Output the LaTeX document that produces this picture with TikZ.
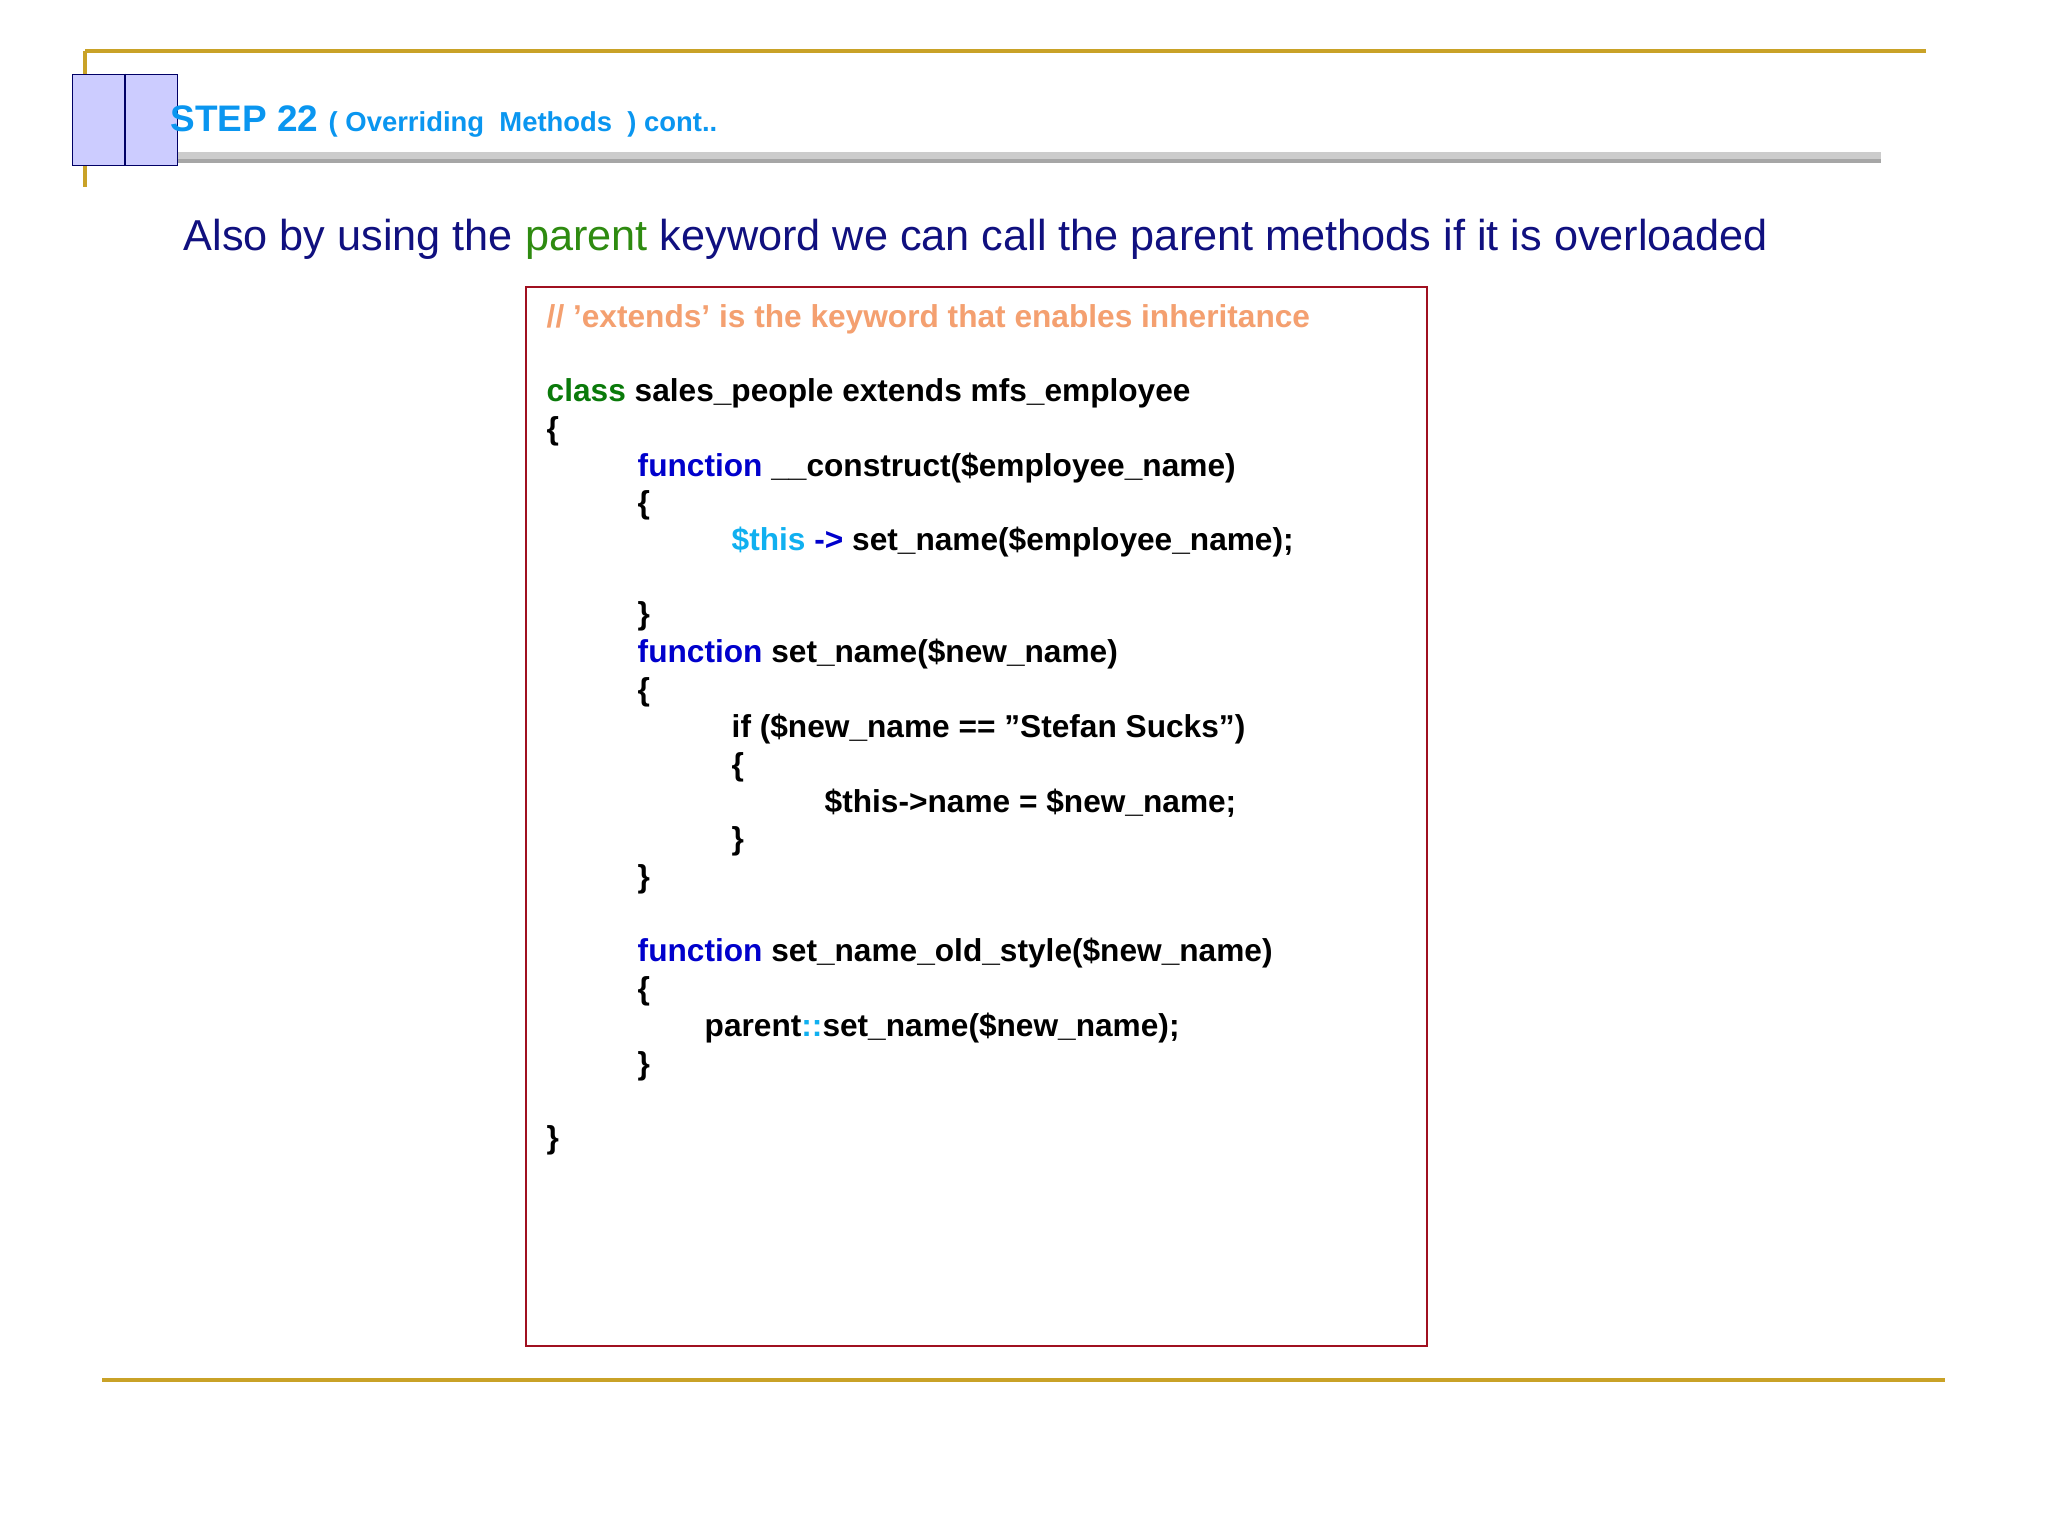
\documentclass[tikz,border=0pt]{standalone}
\usepackage{fontspec}
\setmainfont{Liberation Sans}
\definecolor{gold}{HTML}{C9A227}
\definecolor{ttl}{HTML}{0A96F0}
\definecolor{navy}{HTML}{10107F}
\definecolor{pgreen}{HTML}{2E8B10}
\definecolor{cmt}{HTML}{F4A070}
\definecolor{kgreen}{HTML}{0A7A0A}
\definecolor{kblue}{HTML}{0000CC}
\definecolor{kcyan}{HTML}{10B0F0}
\definecolor{boxred}{HTML}{A01020}
\begin{document}
\begin{tikzpicture}[x=0.01cm,y=-0.01cm,
  code/.style={anchor=west,inner sep=0pt,font=\fontsize{9}{10}\selectfont\bfseries},
  rule/.style={draw=gold,line width=1.2pt}]
\useasboundingbox (0,0) rectangle (2048,1535);
\fill[white] (0,0) rectangle (2048,1535);
% frame lines
\draw[rule] (85,51) -- (1926,51);
\draw[rule] (85,51) -- (85,187);
\draw[rule] (102,1380) -- (1945,1380);
\draw[gray!40,line width=2.2pt] (106,156) -- (1881,156);
\draw[gray!70,line width=0.9pt] (106,161) -- (1881,161);
% icon
\node[draw=blue!40!black,fill=blue!20,minimum width=30,minimum height=26,inner sep=0pt] (icon) at (125,120) {};
\draw[blue!40!black] (icon.north) -- (icon.south);
% title
\node[anchor=base west,inner sep=0pt,text=ttl] (title) at (170,131)
  {\fontsize{10.5}{12}\selectfont\bfseries STEP 22 \fontsize{7.8}{9}\selectfont ( Overriding\ \ Methods\ \ ) cont..};
% subtitle
\node[anchor=base west,inner sep=0pt,text=navy] (sub) at (183,250)
  {\fontsize{12.3}{14}\selectfont Also by using the \textcolor{pgreen}{parent} keyword we can call the parent methods if it is overloaded};
% code box
\draw[boxred,line width=0.8pt] (526,287) rectangle (1427,1346);
\node[code,text=cmt] (c0) at (546,319) {// 'extends' is the keyword that enables inheritance};
\node[code] (c1) at (546,393) {\textcolor{kgreen}{class} sales\_people extends mfs\_employee};
\node[code] (c2) at (546,431) {\{};
\node[code] (c3) at (637,468) {\textcolor{kblue}{function} \_\_construct(\$employee\_name)};
\node[code] (c4) at (637,505) {\{};
\node[code] (c5) at (731,542) {\textcolor{kcyan}{\$this} \textcolor{kblue}{->} set\_name(\$employee\_name);};
\node[code] (c6) at (637,616) {\}};
\node[code] (c7) at (637,654) {\textcolor{kblue}{function} set\_name(\$new\_name)};
\node[code] (c8) at (637,692) {\{};
\node[code] (c9) at (731,729) {if (\$new\_name == "Stefan Sucks")};
\node[code] (c10) at (731,767) {\{};
\node[code] (c11) at (824,803) {\$this->name = \$new\_name;};
\node[code] (c12) at (731,841) {\}};
\node[code] (c13) at (637,879) {\}};
\node[code] (c14) at (637,953) {\textcolor{kblue}{function} set\_name\_old\_style(\$new\_name)};
\node[code] (c15) at (637,991) {\{};
\node[code] (c16) at (704,1028) {parent\textcolor{kcyan}{::}set\_name(\$new\_name);};
\node[code] (c17) at (637,1066) {\}};
\node[code] (c18) at (546,1140) {\}};
\end{tikzpicture}
\end{document}
